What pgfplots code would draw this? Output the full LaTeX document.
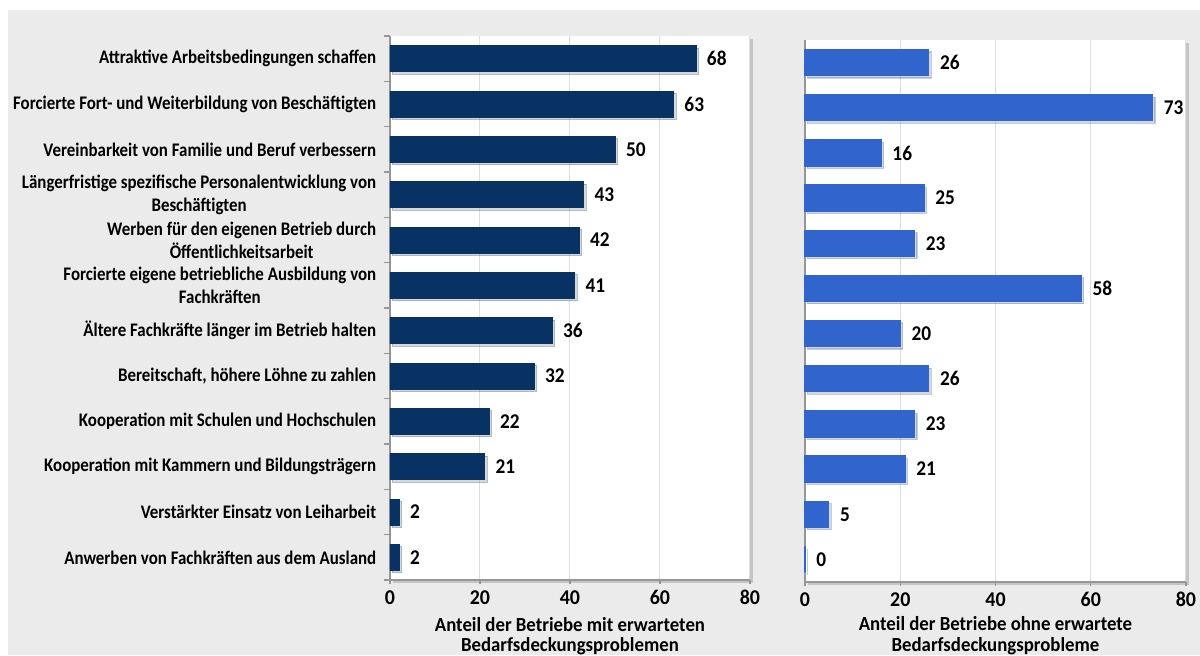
\documentclass[border=0pt]{standalone}
\usepackage{fontspec}
\setmainfont{Carlito}
\usepackage{pgfplots}
\pgfplotsset{compat=1.18}
\usetikzlibrary{shadows}
\definecolor{navy}{RGB}{8,50,100}
\definecolor{lblue}{RGB}{50,100,205}
\definecolor{bg}{RGB}{235,235,235}
\definecolor{gridc}{RGB}{222,222,222}
\definecolor{axc}{RGB}{150,150,150}
\pgfplotsset{
  panel/.style={
    scale only axis, anchor=south west,
    xbar, xmin=0, xmax=80, ymin=-0.5, ymax=11.5, y dir=reverse,
    xtick={0,20,...,80},
    /pgf/number format/assume math mode=true,
    axis x line*=bottom, axis y line*=left,
    axis line style={axc, line width=0.6pt, -},
    xmajorgrids, major grid style={gridc, line width=0.5pt},
    tick style={axc, line width=0.6pt},
    tick align=outside, major tick length=2pt, minor tick length=3pt,
    bar width=13pt,
    axis background/.style={fill=white, drop shadow={shadow xshift=1.5pt, shadow yshift=-1.5pt, opacity=0.35}},
    xticklabel style={font=\bfseries\fontsize{10.5}{12}\selectfont, xscale=0.95, yshift=-2pt, inner sep=1pt},
    xlabel style={font=\bfseries\fontsize{10}{10.4}\selectfont, align=center, xscale=0.94, yshift=-3.8pt, inner sep=1pt},
    nodes near coords,
    nodes near coords style={font=\bfseries\fontsize{10.5}{12}\selectfont, xscale=0.92, text=black, anchor=west, xshift=2.5pt},
    point meta=explicit symbolic,
    clip=false,
  }
}
\begin{document}
\begin{tikzpicture}[x=1pt,y=1pt]
\useasboundingbox (0,0) rectangle (600,327.5);
\clip (0,0) rectangle (600,327.5);
\fill[white] (0,0) rectangle (600,327.5);
\fill[bg] (4,0) rectangle (600,322.5);

\begin{axis}[panel, at={(195pt,37.5pt)}, width=180pt, height=272pt,
  ytick={0,...,11},
  minor ytick={-0.5,0.5,...,11.5},
  major y tick style={draw=none},
  yticklabels={
    Attraktive Arbeitsbedingungen schaffen,
    Forcierte Fort- und Weiterbildung von Beschäftigten,
    Vereinbarkeit von Familie und Beruf verbessern,
    {Längerfristige spezifische Personalentwicklung von\\Beschäftigten},
    {Werben für den eigenen Betrieb durch\\Öffentlichkeitsarbeit},
    {Forcierte eigene betriebliche Ausbildung von\\Fachkräften},
    Ältere Fachkräfte länger im Betrieb halten,
    {Bereitschaft, höhere Löhne zu zahlen},
    Kooperation mit Schulen und Hochschulen,
    Kooperation mit Kammern und Bildungsträgern,
    Verstärkter Einsatz von Leiharbeit,
    Anwerben von Fachkräften aus dem Ausland},
  yticklabel style={font=\bfseries\fontsize{9.6}{11.5}\selectfont, align=center, xscale=0.88, xshift=-2pt},
  xlabel={Anteil der Betriebe mit erwarteten\\Bedarfsdeckungsproblemen},
]
\addplot[fill=navy, draw=navy, line width=0.3pt, drop shadow={shadow xshift=1.2pt, shadow yshift=-1.2pt, opacity=0.3}]
  table[meta=v] {
  x y v
  68 0 68
  63 1 63
  50 2 50
  43 3 43
  42 4 42
  41 5 41
  36 6 36
  32 7 32
  22 8 22
  21 9 21
  2 10 2
  2 11 2
  };
\end{axis}

\begin{axis}[panel, at={(402.5pt,36.5pt)}, width=190.5pt, height=271pt,
  ytick=\empty,
  xlabel={Anteil der Betriebe ohne erwartete\\Bedarfsdeckungsprobleme},
  xlabel style={yshift=1.2pt},
]
\addplot[fill=lblue, draw=lblue, line width=0.6pt, drop shadow={shadow xshift=1.2pt, shadow yshift=-1.2pt, opacity=0.3}]
  table[meta=v] {
  x y v
  26 0 26
  73 1 73
  16 2 16
  25 3 25
  23 4 23
  58 5 58
  20 6 20
  26 7 26
  23 8 23
  21 9 21
  5 10 5
  0 11 0
  };
\end{axis}
\end{tikzpicture}
\end{document}
